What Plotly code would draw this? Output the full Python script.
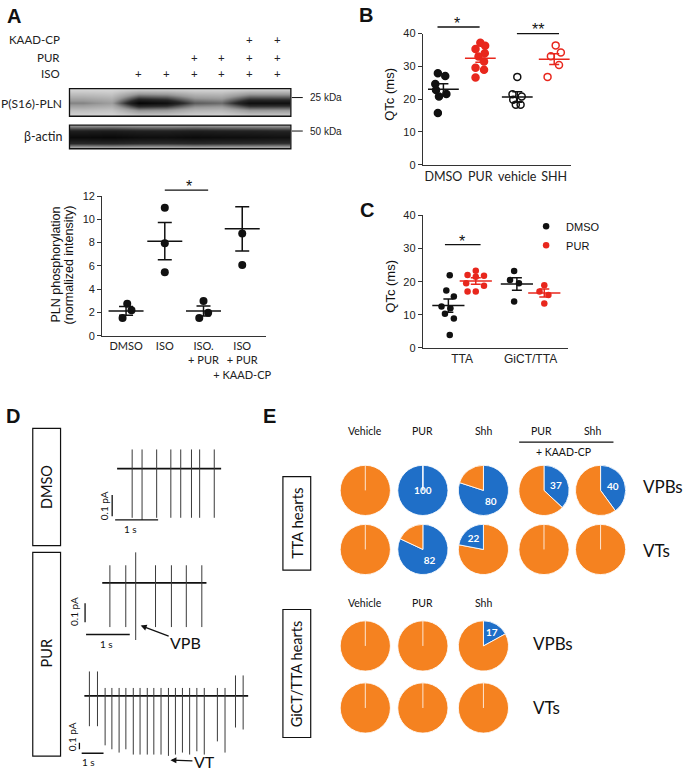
import plotly.graph_objects as go

W, H = 683, 776


def fx(p):
    return p / W


def fy(p):
    return 1 - p / H


ARIAL = "Liberation Sans, Arial, sans-serif"
CAL = "Lato, Open Sans, sans-serif"
BLACK = "#111111"
RED = "#E8271D"
ORANGE = "#F58220"
BLUE = "#1F6FC8"

# ======================= DATA =======================
# Panel A - western blot (8 lanes)
lanes = [1, 2, 3, 4, 5, 6, 7, 8]
iso_flag = [0, 0, 1, 1, 1, 1, 1, 1]
pur_flag = [0, 0, 0, 0, 1, 1, 1, 1]
kaad_flag = [0, 0, 0, 0, 0, 0, 1, 1]
pln_band = [0.42, 0.33, 1.0, 0.92, 0.55, 0.5, 0.93, 0.92]
actin_band = [0.95, 0.97, 0.93, 0.92, 0.95, 0.93, 0.92, 0.9]

# Panel A - quantification
a_groups = ["DMSO", "ISO", "ISO.<br>+ PUR", "ISO<br>+ PUR<br>+ KAAD-CP"]
a_points = [[2.76, 2.2, 1.52], [10.99, 7.94, 5.46], [2.99, 1.97, 1.52], [8.79, 6.08]]
a_mean = [2.14, 8.12, 2.14, 9.18]
a_sem = [0.38, 1.6, 0.43, 1.9]

# Panel B - QTc
b_groups = ["DMSO", "PUR", "vehicle", "SHH"]
b_dmso = [27.9, 27.1, 24.6, 22.8, 21.6, 20.8, 15.8]
b_pur = [37.2, 36.3, 35.3, 34.0, 33.0, 31.5, 29.6, 29.0, 26.6]
b_vehicle = [26.8, 21.5, 20.8, 19.8, 18.3, 18.3]
b_shh = [36.4, 34.2, 33.1, 30.4, 26.8]
b_mean = [23.0, 32.5, 20.7, 32.2]
b_sem = [1.7, 1.25, 1.6, 1.65]

# Panel C - QTc
c_groups = ["TTA", "GiCT/TTA"]
c_tta_dmso = [21.9, 17.3, 15.5, 12.5, 12.0, 10.3, 8.9, 3.9]
c_tta_pur = [23.3, 22.0, 21.8, 21.5, 19.5, 18.8, 17.0, 17.0]
c_gict_dmso = [23.2, 20.5, 19.5, 14.0]
c_gict_pur = [18.9, 17.0, 16.0, 13.4]
c_mean_dmso = [12.8, 19.3]
c_sem_dmso = [2.0, 1.9]
c_mean_pur = [20.2, 16.6]
c_sem_pur = [0.95, 1.2]

# Panel D - ECG traces (spike times in s, peak / trough in pA)
d_dmso_t = [0.35, 0.58, 0.92, 1.25, 1.48, 1.73, 1.92, 2.26]
d_dmso_top = [0.09, 0.09, 0.09, 0.09, 0.09, 0.09, 0.09, 0.09]
d_dmso_bot = [-0.23, -0.24, -0.23, -0.23, -0.23, -0.23, -0.23, -0.23]
d_dmso_end = 2.42

d_pur_t = [0.175, 0.539, 0.766, 1.22, 1.584, 1.925, 2.28]
d_pur_top = [0.093, 0.093, 0.161, 0.093, 0.093, 0.093, 0.093]
d_pur_bot = [-0.232, -0.232, -0.30, -0.232, -0.232, -0.232, -0.232]
d_pur_end = 2.386

d_vt_t = [0.23, 0.6, 0.95, 1.26, 1.59, 1.9, 2.24, 2.55, 2.88, 3.18, 3.51,
          3.85, 4.17, 4.49, 4.82, 5.15, 5.49, 6.09, 6.44, 6.92, 7.27]
d_vt_top = [0.37, 0.37, 0.12, 0.12, 0.12, 0.12, 0.12, 0.12, 0.12, 0.12, 0.12,
            0.12, 0.12, 0.12, 0.12, 0.12, 0.12, 0.12, 0.12, 0.31, 0.31]
d_vt_bot = [-0.46, -0.46, -0.75, -0.81, -0.86, -0.81, -0.89, -0.89, -0.89, -0.89, -0.89,
            -0.91, -0.89, -0.86, -0.89, -0.84, -0.89, -0.69, -0.86, -0.48, -0.51]
d_vt_end = 7.5

# Panel E - % hearts with arrhythmia
e_tta_cols = ["Vehicle", "PUR", "Shh", "PUR", "Shh"]
e_tta_vpb = [0, 100, 80, 37, 40]
e_tta_vt = [0, 82, 22, 0, 0]
e_gict_cols = ["Vehicle", "PUR", "Shh"]
e_gict_vpb = [0, 0, 17]
e_gict_vt = [0, 0, 0]

# ======================= STYLE / LAYOUT HELPERS =======================
a_jit = [[0.03, 0.14, -0.09], [0, 0, 0], [0.0, 0.12, -0.11], [0, 0]]
b_jit = [[-0.15, 0.05, -0.22, -0.2, 0.08, -0.12, -0.15],
         [0, 0.13, -0.13, 0.12, -0.05, 0.1, -0.13, 0.1, -0.13],
         [0, -0.13, 0.12, -0.11, -0.04, 0.09],
         [0.04, 0.18, -0.09, 0.13, -0.18]]
c_jit = [[0.02, -0.03, 0.08, -0.1, 0.03, -0.05, 0.08, 0.02],
         [0, -0.12, 0.12, 0, -0.14, 0.12, -0.12, 0],
         [-0.04, -0.1, 0.03, -0.04],
         [0, -0.07, 0.06, 0]]
C_OFF = 0.2
# slice drawn first (clockwise from 12 o'clock) for the TTA VT row: Shh pie has blue on the left
e_tta_vt_blue_last = [False, False, True, False, False]

fig = go.Figure()
AX = {}
shapes = []
annos = []


def axes(n, xpx, ypx, xr, yr, xs, ys):
    xs = dict(xs)
    ys = dict(ys)
    sx = "" if n == 1 else str(n)
    xs.update(domain=[fx(xpx[0]), fx(xpx[1])], range=xr, anchor="y" + sx)
    ys.update(domain=[fy(ypx[1]), fy(ypx[0])], range=yr, anchor="x" + sx)
    AX["xaxis" + sx] = xs
    AX["yaxis" + sx] = ys
    return "x" + sx, "y" + sx


HIDDEN = dict(visible=False, fixedrange=True)
VX = dict(showline=True, linecolor="#333", linewidth=1.3, ticks="", showgrid=False,
          zeroline=False, fixedrange=True, tickangle=0)
VY = dict(showline=True, linecolor="#333", linewidth=1.3, ticks="outside", ticklen=4,
          tickwidth=1.2, tickcolor="#333", showgrid=False, zeroline=False, fixedrange=True,
          tickfont=dict(family=ARIAL, size=11, color="#222"))


def text(x, y, s, size=11, fam=ARIAL, xref="paper", yref="paper", angle=0, xanchor="center",
         yanchor="middle", color="#111", bold=False, align="center"):
    annos.append(dict(x=x, y=y, xref=xref, yref=yref, text=("<b>%s</b>" % s) if bold else s,
                      showarrow=False, textangle=angle, xanchor=xanchor, yanchor=yanchor, align=align,
                      font=dict(family=fam, size=size, color=color)))


def rect_px(x0, y0, x1, y1, width=1.2):
    shapes.append(dict(type="rect", xref="paper", yref="paper", x0=fx(x0), x1=fx(x1),
                       y0=fy(y1), y1=fy(y0), line=dict(color="#111", width=width)))


def line_px(x0, y0, x1, y1, color="#111", width=1.2):
    shapes.append(dict(type="line", xref="paper", yref="paper", x0=fx(x0), x1=fx(x1),
                       y0=fy(y0), y1=fy(y1), line=dict(color=color, width=width)))


# panel letters
for L, (lx, ly) in {"A": (14, 10), "B": (369, 9), "C": (370, 207), "D": (13, 416), "E": (271, 416)}.items():
    text(fx(lx), fy(ly), L, size=20, bold=True)

# ======================= PANEL A: BLOT =======================
profile_pln = [0.03, 0.4, 1.0, 0.5, 0.03]
profile_act = [0.1, 0.75, 1.0, 0.85, 0.35]
rows = [0, 0.25, 0.5, 0.75, 1.0]
gray = [[0, "#dcdcdc"], [0.35, "#9a9a9a"], [0.7, "#2a2a2a"], [1, "#050505"]]
for n, band, prof, ypx in [(4, pln_band, profile_pln, (84, 112)), (5, actin_band, profile_act, (121, 145))]:
    xa, ya = axes(n, (70, 293), ypx, [0.5, 8.5], [0, 1], HIDDEN, HIDDEN)
    z = [[b * p for b in band] for p in prof]
    fig.add_trace(go.Heatmap(x=lanes, y=rows, z=z, zmin=0, zmax=1, colorscale=gray, showscale=False,
                             zsmooth="best", hoverinfo="skip", xaxis=xa, yaxis=ya))
    shapes.append(dict(type="rect", xref=xa + " domain", yref=ya + " domain", x0=0, x1=1, y0=0, y1=1,
                       line=dict(color="#111", width=1.3)))

for flags, name, ypx in [(kaad_flag, "KAAD-CP", 34), (pur_flag, "PUR", 52), (iso_flag, "ISO", 69)]:
    text(fx(62), fy(ypx), name, size=11.5, fam=CAL, xanchor="right", color="#222")
    for ln, f in zip(lanes, flags):
        if f:
            text(ln, fy(ypx), "+", size=11.5, fam=CAL, xref="x4", color="#222")

text(fx(64), fy(99), "P(S16)-PLN", size=12, fam=CAL, xanchor="right", color="#222")
text(fx(64), fy(133), "β-actin", size=12.5, fam=CAL, xanchor="right", color="#222")
line_px(294, 93, 305, 93, width=1)
line_px(294, 127, 305, 127, width=1)
text(fx(310), fy(93), "25 kDa", size=10, xanchor="left", color="#222")
text(fx(310), fy(127), "50 kDa", size=10, xanchor="left", color="#222")

# ======================= PANEL A: QUANT =======================
xa, ya = axes(1, (103, 268), (193, 335), [-0.615, 3.615], [0, 12],
              dict(VX, tickvals=[0, 1, 2, 3], ticktext=a_groups,
                   tickfont=dict(family=CAL, size=11, color="#222")),
              dict(VY, tickvals=[0, 2, 4, 6, 8, 10, 12]))
for i, (pts, jit) in enumerate(zip(a_points, a_jit)):
    fig.add_trace(go.Scatter(x=[i + j for j in jit], y=pts, mode="markers", xaxis=xa, yaxis=ya,
                             marker=dict(color=BLACK, size=8), showlegend=False, hoverinfo="skip"))
fig.add_trace(go.Scatter(x=[0, 1, 2, 3], y=a_mean, mode="markers", xaxis=xa, yaxis=ya, showlegend=False,
                         marker=dict(symbol="line-ew", size=25, line=dict(color=BLACK, width=1.5)),
                         error_y=dict(type="data", array=a_sem, width=7, thickness=1.5, color=BLACK),
                         hoverinfo="skip"))
shapes.append(dict(type="line", xref="x", yref="y domain", x0=1.0, x1=2.12, y0=1.042, y1=1.042,
                   line=dict(color="#111", width=1.3)))
text(1.615, 1.07, "*", size=16, xref="x", yref="y domain")
text(fx(56), fy(263), "PLN phosphorylation", size=12.5, angle=-90)
text(fx(69), fy(263), "(normalized intensity)", size=12.5, angle=-90)

# ======================= PANEL B =======================
xa, ya = axes(2, (426, 575), (28, 161.3), [-0.556, 3.449], [0, 40],
              dict(VX, tickvals=[0, 1, 2, 3], ticktext=b_groups,
                   tickfont=dict(family=CAL, size=12.5, color="#222")),
              dict(VY, tickvals=[0, 10, 20, 30, 40]))
b_sets = [(b_dmso, BLACK, "circle"), (b_pur, RED, "circle"), (b_vehicle, BLACK, "circle-open"),
          (b_shh, RED, "circle-open")]
for i, ((vals, col, sym), jit) in enumerate(zip(b_sets, b_jit)):
    fig.add_trace(go.Scatter(x=[i + j for j in jit], y=vals, mode="markers", xaxis=xa, yaxis=ya,
                             marker=dict(color=col, size=7, symbol=sym, line=dict(color=col, width=1.5)),
                             showlegend=False, hoverinfo="skip"))
    fig.add_trace(go.Scatter(x=[i], y=[b_mean[i]], mode="markers", xaxis=xa, yaxis=ya, showlegend=False,
                             marker=dict(symbol="line-ew", size=22, line=dict(color=col, width=1.5)),
                             error_y=dict(type="data", array=[b_sem[i]], width=5, thickness=1.5, color=col),
                             hoverinfo="skip"))
shapes.append(dict(type="line", xref="x2", yref="y2 domain", x0=-0.16, x1=0.98, y0=1.05, y1=1.05,
                   line=dict(color="#111", width=1.3)))
shapes.append(dict(type="line", xref="x2", yref="y2 domain", x0=1.99, x1=3.13, y0=1.0, y1=1.0,
                   line=dict(color="#111", width=1.3)))
text(0.36, 1.08, "*", size=16, xref="x2", yref="y2 domain")
text(2.55, 1.03, "**", size=16, xref="x2", yref="y2 domain")
text(fx(392), fy(90), "QTc (ms)", size=13, angle=-90)

# ======================= PANEL C =======================
xa, ya = axes(3, (426, 571.7), (212.7, 347.3), [-0.572, 1.539], [0, 40],
              dict(VX, tickvals=[0, 1], ticktext=c_groups,
                   tickfont=dict(family=ARIAL, size=12, color="#222")),
              dict(VY, tickvals=[0, 10, 20, 30, 40]))
c_sets = [(c_tta_dmso, 0 - C_OFF, BLACK), (c_tta_pur, 0 + C_OFF, RED),
          (c_gict_dmso, 1 - C_OFF, BLACK), (c_gict_pur, 1 + C_OFF, RED)]
for k, ((vals, xc, col), jit) in enumerate(zip(c_sets, c_jit)):
    fig.add_trace(go.Scatter(x=[xc + j for j in jit], y=vals, mode="markers", xaxis=xa, yaxis=ya,
                             marker=dict(color=col, size=6.5), hoverinfo="skip",
                             name="DMSO" if col == BLACK else "PUR", legendgroup=col,
                             showlegend=(k < 2)))
fig.add_trace(go.Scatter(x=[0 - C_OFF, 1 - C_OFF], y=c_mean_dmso, mode="markers", xaxis=xa, yaxis=ya,
                         showlegend=False, hoverinfo="skip",
                         marker=dict(symbol="line-ew", size=23, line=dict(color=BLACK, width=1.5)),
                         error_y=dict(type="data", array=c_sem_dmso, width=5, thickness=1.5, color=BLACK)))
fig.add_trace(go.Scatter(x=[0 + C_OFF, 1 + C_OFF], y=c_mean_pur, mode="markers", xaxis=xa, yaxis=ya,
                         showlegend=False, hoverinfo="skip",
                         marker=dict(symbol="line-ew", size=23, line=dict(color=RED, width=1.5)),
                         error_y=dict(type="data", array=c_sem_pur, width=5, thickness=1.5, color=RED)))
shapes.append(dict(type="line", xref="x3", yref="y3 domain", x0=-0.25, x1=0.27, y0=0.78, y1=0.78,
                   line=dict(color="#111", width=1.3)))
text(0.0, 0.805, "*", size=16, xref="x3", yref="y3 domain")
text(fx(393), fy(285), "QTc (ms)", size=13, angle=-90)

# ======================= PANEL D =======================
rect_px(33, 429, 61, 548)
rect_px(33, 555, 61, 762)
text(fx(47), fy(489), "DMSO", size=14.5, fam=CAL, angle=-90)
text(fx(47), fy(658), "PUR", size=14.5, fam=CAL, angle=-90)


def ecg(n, xpx, ypx, xr, yr, t, top, bot, end):
    xa, ya = axes(n, xpx, ypx, xr, yr, HIDDEN, HIDDEN)
    fig.add_trace(go.Scatter(x=[0, end], y=[0, 0], mode="lines", xaxis=xa, yaxis=ya,
                             line=dict(color="#111", width=1.8), showlegend=False, hoverinfo="skip"))
    xs, ys = [], []
    for ti, a, b in zip(t, top, bot):
        xs += [ti, ti, None]
        ys += [a, b, None]
    fig.add_trace(go.Scatter(x=xs, y=ys, mode="lines", xaxis=xa, yaxis=ya,
                             line=dict(color="#3a3a3a", width=1), showlegend=False, hoverinfo="skip"))
    return xa, ya


def scalebars(xa, ya, vx, vy0, hx0, hy, lab_v, lab_h):
    shapes.append(dict(type="line", xref=xa, yref=ya, x0=vx, x1=vx, y0=vy0, y1=vy0 + 0.1,
                       line=dict(color="#111", width=1.3)))
    shapes.append(dict(type="line", xref=xa, yref=ya, x0=hx0, x1=hx0 + 1.0, y0=hy, y1=hy,
                       line=dict(color="#111", width=1.3)))
    text(lab_v[0], lab_v[1], "0.1 pA", size=10, fam=CAL, xref=xa, yref=ya, angle=-90)
    text(lab_h[0], lab_h[1], "1 s", size=10, fam=CAL, xref=xa, yref=ya)


xa, ya = ecg(6, (60, 240), (440, 545), [-1.339, 2.818], [-0.346, 0.138],
             d_dmso_t, d_dmso_top, d_dmso_bot, d_dmso_end)
scalebars(xa, ya, -0.115, -0.223, -0.046, -0.24, (-0.30, -0.175), (0.32, -0.283))

xa, ya = ecg(7, (60, 240), (550, 660), [-0.977, 3.114], [-0.383, 0.1865],
             d_pur_t, d_pur_top, d_pur_bot, d_pur_end)
scalebars(xa, ya, -0.393, -0.207, -0.37, -0.271, (-0.636, -0.150), (0.09, -0.323))
annos.append(dict(x=0.88, y=-0.224, xref=xa, yref=ya, text="VPB", showarrow=True, ax=45, ay=17,
                  arrowhead=2, arrowsize=1, arrowwidth=1.2, arrowcolor="#111",
                  font=dict(family=CAL, size=16, color="#111")))

xa, ya = ecg(8, (62, 265), (665, 776), [-1.045, 8.182], [-1.124, 0.533],
             d_vt_t, d_vt_top, d_vt_bot, d_vt_end)
scalebars(xa, ya, -0.227, -0.81, -0.123, -0.87, (-0.59, -0.62), (0.18, -1.0))
annos.append(dict(x=3.94, y=-0.975, xref=xa, yref=ya, text="VT", showarrow=True, ax=34, ay=1,
                  arrowhead=2, arrowsize=1, arrowwidth=1.2, arrowcolor="#111",
                  font=dict(family=CAL, size=16, color="#111")))

# ======================= PANEL E =======================
R = 25.5


def pie(cx, cy, blue, blue_last=False):
    vals = [blue, 100 - blue]
    cols = [BLUE, ORANGE]
    lbl = "<b>%d</b>" % blue
    if blue == 100:
        lbl = "<br>" + lbl  # full-circle label sits below the centre seam
    txt = [lbl if blue > 0 else "", ""]
    labs = ["arrhythmia", "none"]
    if blue_last:
        vals, cols, txt, labs = vals[::-1], cols[::-1], txt[::-1], labs[::-1]
    fig.add_trace(go.Pie(values=vals, labels=labs, sort=False,
                         direction="clockwise", rotation=0,
                         marker=dict(colors=cols, line=dict(color="rgba(255,255,255,0.85)", width=1)),
                         text=txt, textinfo="text",
                         textposition="inside", insidetextorientation="horizontal",
                         textfont=dict(color="white", size=10, family=CAL),
                         domain=dict(x=[fx(cx - R), fx(cx + R)], y=[fy(cy + R), fy(cy - R)]),
                         showlegend=False, hoverinfo="skip"))
    if blue in (0, 100):
        # thin white seam at 12 o'clock left by the empty slice
        line_px(cx, cy, cx, cy - R, color="rgba(255,255,255,0.8)", width=1)


tta_x = [368, 426, 487, 548, 605]
tta_head_x = [368, 426, 487, 545, 597]
for i, (nm, hx) in enumerate(zip(e_tta_cols, tta_head_x)):
    text(fx(hx), fy(432), nm, size=10.5, fam=CAL)
    pie(tta_x[i], 492, e_tta_vpb[i])
    pie(tta_x[i], 552, e_tta_vt[i], e_tta_vt_blue_last[i])
line_px(523, 443, 618, 443, width=1.2)
text(fx(568), fy(453), "+ KAAD-CP", size=10.5, fam=CAL)
text(fx(646), fy(488), "VPBs", size=17, fam=CAL, xanchor="left")
text(fx(646), fy(553), "VTs", size=17, fam=CAL, xanchor="left")
rect_px(285, 478, 313, 573)
text(fx(299), fy(525), "TTA hearts", size=15, fam=CAL, angle=-90)

gict_x = [368, 426, 487]
for i, nm in enumerate(e_gict_cols):
    text(fx(gict_x[i]), fy(606), nm, size=10.5, fam=CAL)
    pie(gict_x[i], 650, e_gict_vpb[i])
    pie(gict_x[i], 713, e_gict_vt[i])
text(fx(535), fy(648), "VPBs", size=17, fam=CAL, xanchor="left")
text(fx(535), fy(713), "VTs", size=17, fam=CAL, xanchor="left")
rect_px(285, 613, 313, 743)
text(fx(299), fy(678), "GiCT/TTA hearts", size=14.5, fam=CAL, angle=-90)

fig.update_layout(
    width=W, height=H, margin=dict(l=0, r=0, t=0, b=0),
    paper_bgcolor="white", plot_bgcolor="white",
    font=dict(family=ARIAL, size=11, color="#111"),
    showlegend=True,
    legend=dict(x=fx(530), y=fy(209), xanchor="left", yanchor="top", font=dict(size=11, family=ARIAL),
                bgcolor="rgba(0,0,0,0)", tracegroupgap=0, itemwidth=30),
    shapes=shapes, annotations=annos,
    **AX,
)
fig.write_html("out.html", config={"displayModeBar": False},
               post_script="document.body.style.margin='0px';document.body.style.overflow='hidden';")
